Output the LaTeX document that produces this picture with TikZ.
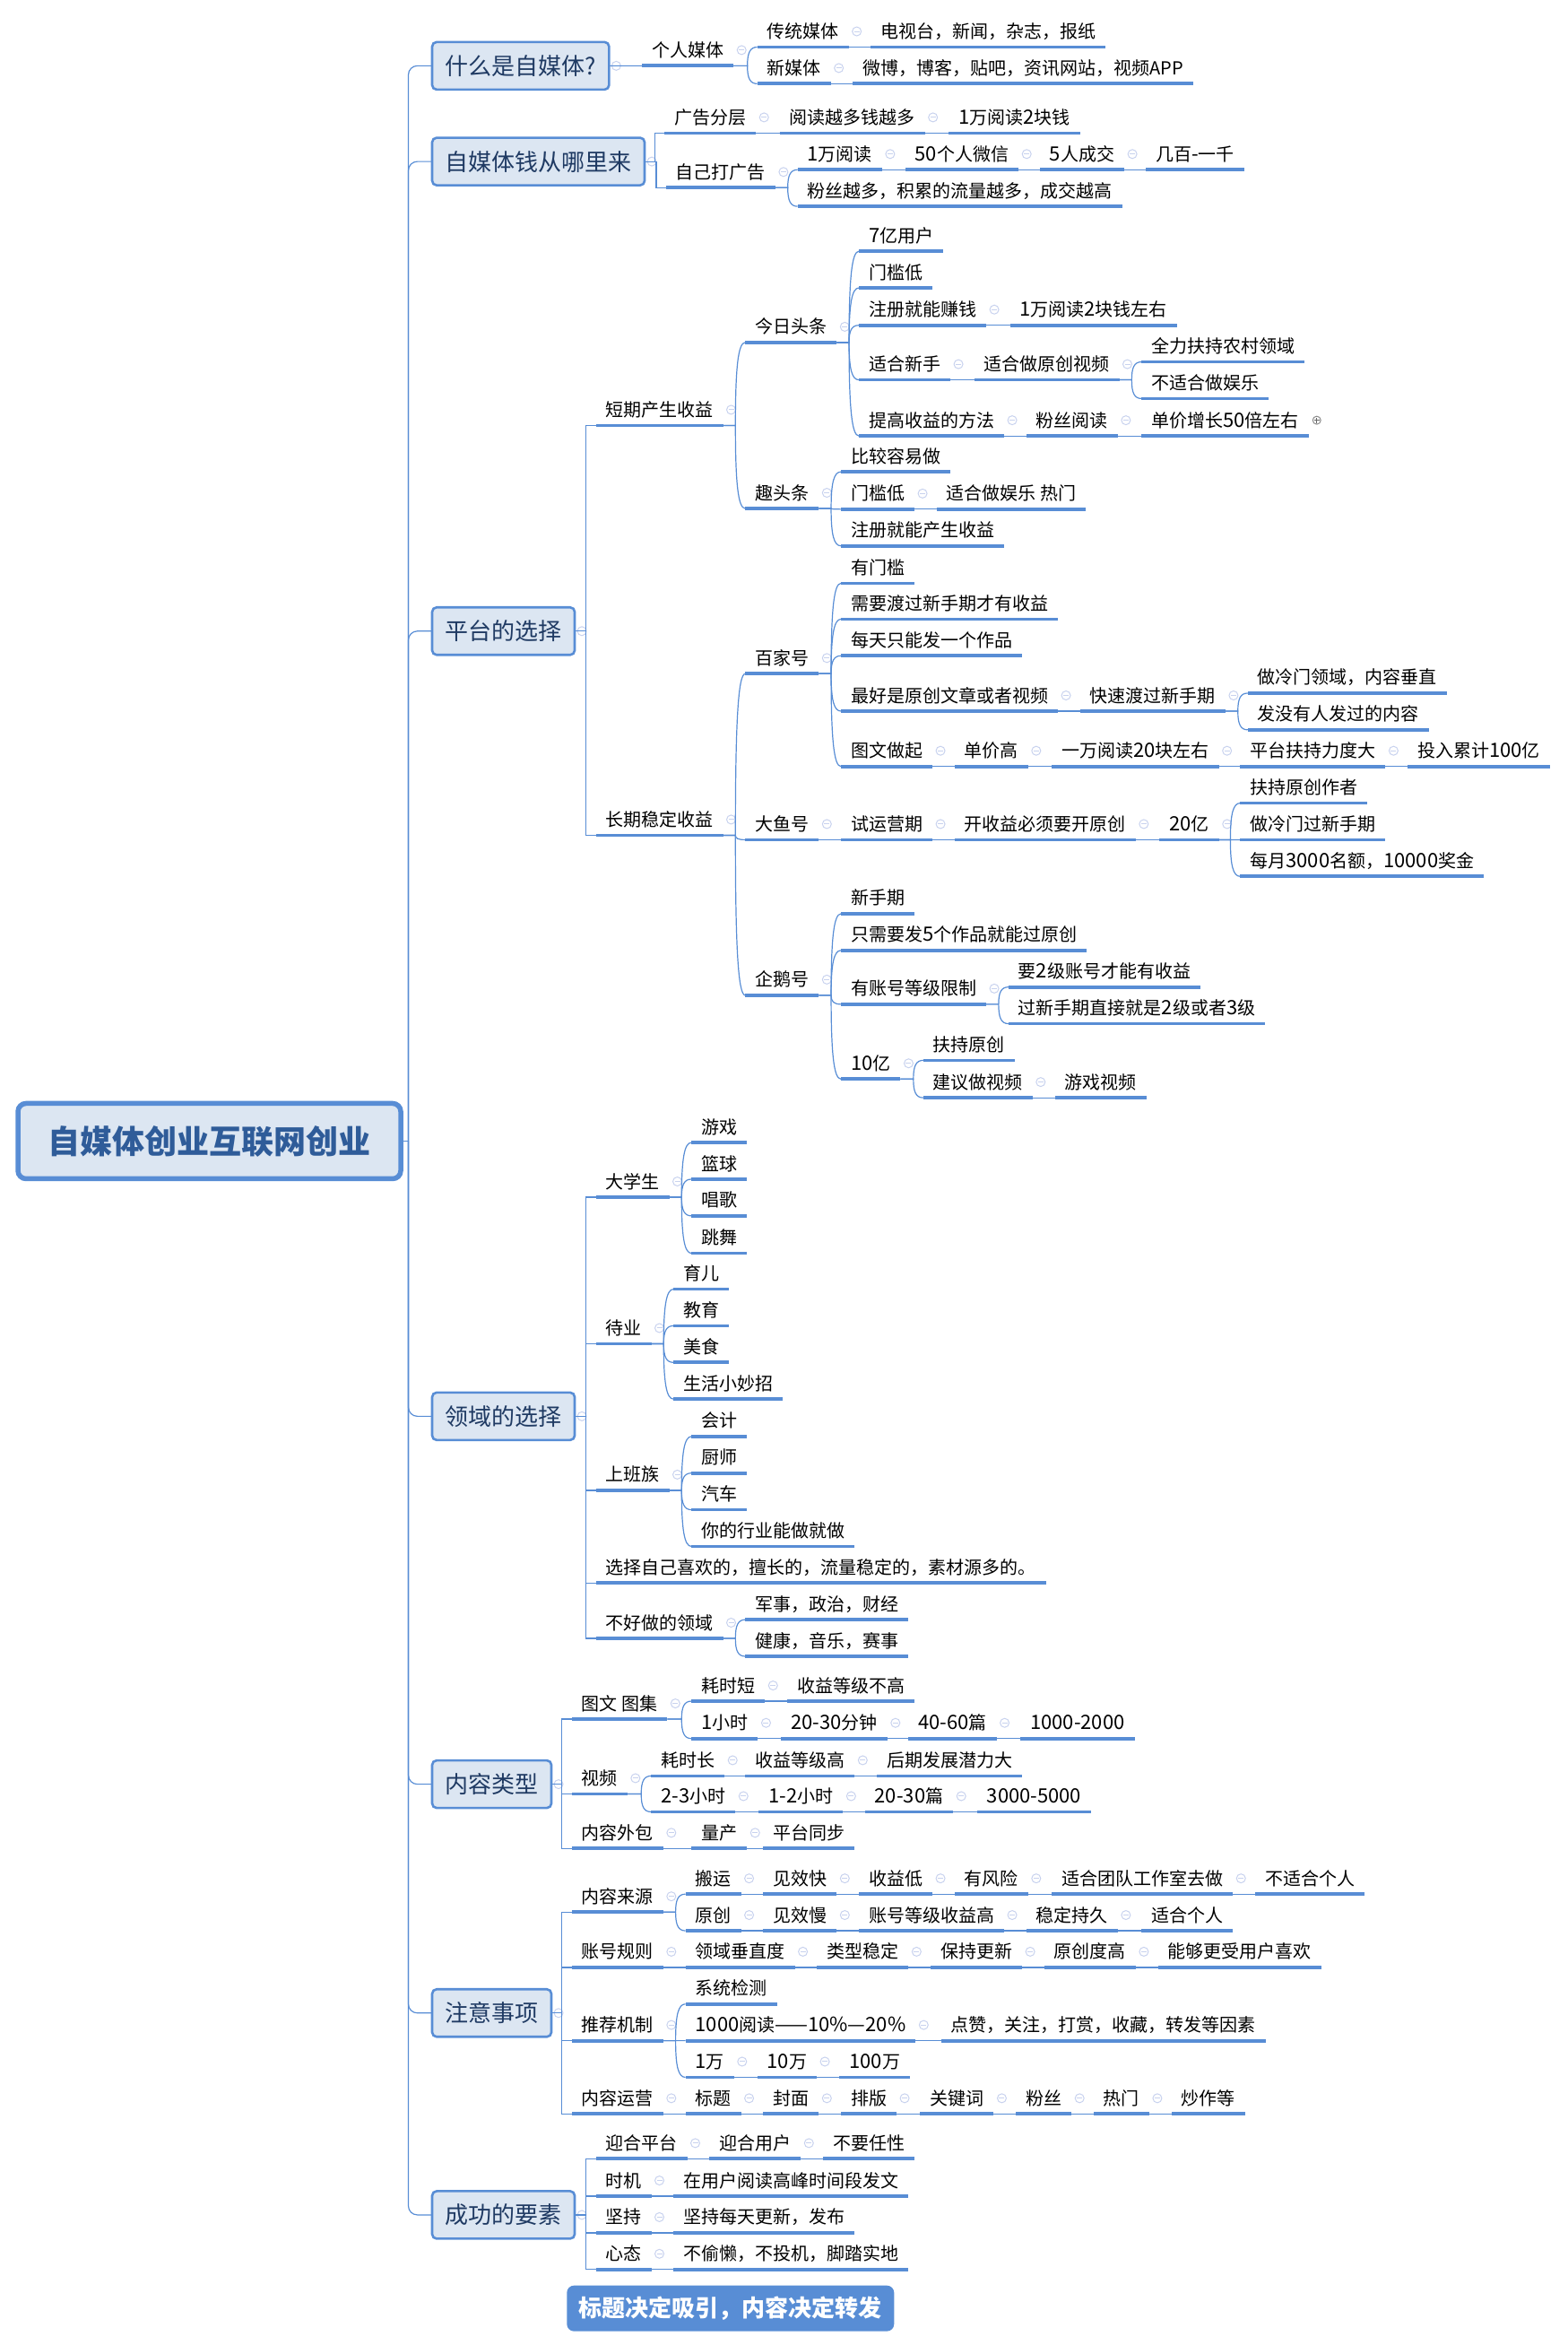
\documentclass[tikz,border=0pt]{standalone}
\usepackage{fontspec}
\setmainfont{Noto Sans CJK SC}
\newfontface\latf{Noto Sans CJK SC}[Scale=1.1]
\XeTeXinterchartokenstate=1
\newXeTeXintercharclass\latcl
\XeTeXcharclass`0=\latcl \XeTeXcharclass`1=\latcl \XeTeXcharclass`2=\latcl \XeTeXcharclass`3=\latcl \XeTeXcharclass`4=\latcl
\XeTeXcharclass`5=\latcl \XeTeXcharclass`6=\latcl \XeTeXcharclass`7=\latcl \XeTeXcharclass`8=\latcl \XeTeXcharclass`9=\latcl
\XeTeXcharclass`-=\latcl \XeTeXcharclass`\%=\latcl \XeTeXcharclass`—=\latcl
\XeTeXinterchartoks 0 \latcl={\begingroup\latf}
\XeTeXinterchartoks 4095 \latcl={\begingroup\latf}
\XeTeXinterchartoks \latcl 0={\endgroup}
\XeTeXinterchartoks \latcl 4095={\endgroup}
\usetikzlibrary{calc}
\definecolor{mblue}{HTML}{588DD5}
\definecolor{mfill}{HTML}{DCE6F2}
\definecolor{mtext}{HTML}{1F3A63}
\definecolor{mroot}{HTML}{2F5C99}
\definecolor{mmark}{HTML}{C8D2EE}
\tikzset{
 conn/.style={draw=mblue,line width=1.2pt},
 mkline/.style={draw=mmark,line width=1pt},
 leaf/.style={inner xsep=11pt,inner ysep=0pt,outer sep=0pt,minimum height=35pt,anchor=west,
   text height=17pt,text depth=2pt,font=\fontsize{20}{24}\selectfont,text=black,
   append after command={(\tikzlastnode.south west) edge[draw=mblue,line width=3.8pt] (\tikzlastnode.south east)}},
 topic/.style={draw=mblue,line width=2.6pt,fill=mfill,rounded corners=5pt,inner xsep=14.5pt,outer sep=0pt,
   minimum height=53pt,anchor=west,text height=20pt,text depth=0.2pt,font=\fontsize{26}{32}\selectfont,text=mtext},
 rootbox/.style={draw=mblue,line width=5.5pt,fill=mfill,rounded corners=9pt,minimum width=427pt,minimum height=84pt,
   font=\fontsize{36}{40}\selectfont\bfseries,text=mroot,outer sep=2.5pt},
 bannerbox/.style={fill=mblue,rounded corners=8pt,minimum width=365pt,minimum height=51pt,
   font=\fontsize{26}{30}\selectfont\bfseries,text=white,inner sep=0pt}
}
\newcommand\xM[2][9pt]{\begingroup\pgfmathsetlengthmacro\xa{#1}%
 \draw[mkline] ([xshift=\xa]#2.east) circle (5pt);
 \draw[mkline] ([xshift=\xa-3pt]#2.east) -- ([xshift=\xa+3pt]#2.east);\endgroup}
\newcommand\xP[2][9pt]{\begingroup\pgfmathsetlengthmacro\xa{#1}%
 \draw[draw=black!45,line width=1pt] ([xshift=\xa]#2.east) circle (4.5pt);
 \draw[draw=black!60,line width=1pt] ([xshift=\xa-3pt]#2.east) -- ([xshift=\xa+3pt]#2.east);
 \draw[draw=black!60,line width=1pt] ([xshift=\xa,yshift=-3pt]#2.east) -- ([xshift=\xa,yshift=3pt]#2.east);\endgroup}
% a row of linked leaves: base name, y, list of x/text
\newcommand\xch[3]{\foreach \xx/\tt [count=\i] in {#3}{%
 \node[leaf] (#1\i) at (\xx-6.6,#2) {\tt};
 \ifnum\i>1 \pgfmathtruncatemacro\j{\i-1}%
  \draw[conn] (#1\j.south east) -- (#1\i.south west);
  \xM{#1\j}\fi}}
% curved fan
\newcommand\xC[2]{\xM{#1}\foreach \xc in {#2}{%
 \draw[conn] let \p1=(#1.south east),\p2=(\xc.south west) in
  (\p1) -- (\x2-11pt,\y1) .. controls (\x2-11pt,{\y1*0.3+\y2*0.7}) and (\x2-8pt,\y2) .. (\p2);}}
% square fan from a box
\newcommand\xE[2]{\xM[8pt]{#1}\foreach \xc in {#2}{%
 \draw[conn] let \p1=(#1.east),\p2=(\xc.south west) in
  (\p1) -- (\x2-11pt,\y1) -- (\x2-11pt,\y2) -- (\p2);}}
\begin{document}
\begin{tikzpicture}[x=1.66794pt,y=-1.66773pt]
\useasboundingbox (0,0) rectangle (1048,1568);
\node[rootbox] (root) at (140,763) {自媒体创业互联网创业};
\coordinate (trunk) at ([xshift=6pt]root.east);
\draw[conn] (root.east) -- (trunk);
% topics
\node[topic] (ta) at (289,44) {什么是自媒体?};
\node[topic] (tb) at (289,108) {自媒体钱从哪里来};
\node[topic] (tc) at (289,422) {平台的选择};
\node[topic] (td) at (289,947) {领域的选择};
\node[topic] (te) at (289,1193) {内容类型};
\node[topic] (tf) at (289,1346) {注意事项};
\node[topic] (tg) at (289,1481) {成功的要素};
\foreach \tp in {ta,tb,tc,td,te,tf,tg}{\draw[conn,rounded corners=10pt] (trunk) |- (\tp.west);}
% 1
\xch{aa}{33.5}{436/个人媒体}
\xch{ab}{21}{513/传统媒体,589/电视台，新闻，杂志，报纸}
\xch{ac}{45.5}{513/新媒体,577/微博，博客，贴吧，资讯网站，视频APP}
\xM[8pt]{ta}\draw[conn] (ta.east) -- (aa1.south west);
\xC{aa1}{ab1,ac1}
% 2
\xch{ba}{78.5}{451/广告分层,528/阅读越多钱越多,641/1万阅读2块钱}
\xch{bb}{115}{452/自己打广告}
\xch{bc}{103}{540/1万阅读,612/50个人微信,702/5人成交,773/几百-一千}
\xch{bd}{127.5}{540/粉丝越多，积累的流量越多，成交越高}
\xE{tb}{ba1,bb1}
\xC{bb1}{bc1,bd1}
% 3
\xch{ca}{274}{405/短期产生收益}
\xch{cb}{548}{405/长期稳定收益}
\xE{tc}{ca1,cb1}
\xch{da}{218.5}{505/今日头条}
\xch{db}{329.5}{505/趣头条}
\xC{ca1}{da1,db1}
\xch{ea}{157.5}{581/7亿用户}
\xch{eb}{182}{581/门槛低}
\xch{ec}{207}{581/注册就能赚钱,682/1万阅读2块钱左右}
\xch{ed}{243.5}{581/适合新手,658/适合做原创视频}
\xch{ee}{231.5}{770/全力扶持农村领域}
\xch{ef}{256}{770/不适合做娱乐}
\xch{eg}{281}{581/提高收益的方法,693/粉丝阅读,770/单价增长50倍左右}
\xP{eg3}
\xC{da1}{ea1,eb1,ec1,ed1,eg1}
\xC{ed2}{ee1,ef1}
\xch{fa}{305}{569/比较容易做}
\xch{fb}{330}{569/门槛低,633/适合做娱乐 热门}
\xch{fc}{354.5}{569/注册就能产生收益}
\xC{db1}{fa1,fb1,fc1}
\xch{ga}{440}{505/百家号}
\xch{gb}{551}{505/大鱼号,569/试运营期,645/开收益必须要开原创,782/20亿}
\xch{gc}{655}{505/企鹅号}
\xC{cb1}{ga1,gb1,gc1}
\xch{ha}{379.5}{569/有门槛}
\xch{hb}{403.5}{569/需要渡过新手期才有收益}
\xch{hc}{428}{569/每天只能发一个作品}
\xch{hd}{465}{569/最好是原创文章或者视频,729/快速渡过新手期}
\xch{he}{453}{841/做冷门领域，内容垂直}
\xch{hf}{477.5}{841/发没有人发过的内容}
\xch{hg}{502}{569/图文做起,645/单价高,710/一万阅读20块左右,836/平台扶持力度大,948/投入累计100亿}
\xC{ga1}{ha1,hb1,hc1,hd1,hg1}
\xC{hd2}{he1,hf1}
\xch{ia}{526.5}{836/扶持原创作者}
\xch{ib}{551}{836/做冷门过新手期}
\xch{ic}{575.5}{836/每月3000名额，10000奖金}
\xC{gb4}{ia1,ib1,ic1}
\xch{ja}{600.5}{569/新手期}
\xch{jb}{625}{569/只需要发5个作品就能过原创}
\xch{jc}{661}{569/有账号等级限制}
\xch{jd}{711}{569/10亿}
\xch{je}{649.5}{681/要2级账号才能有收益}
\xch{jf}{674}{681/过新手期直接就是2级或者3级}
\xch{jg}{698.5}{624/扶持原创}
\xch{jh}{723.5}{624/建议做视频,712/游戏视频}
\xC{gc1}{ja1,jb1,jc1,jd1}
\xC{jc1}{je1,jf1}
\xC{jd1}{jg1,jh1}
% 4
\xch{ka}{790}{405/大学生}
\xch{kb}{888}{405/待业}
\xch{kc}{986}{405/上班族}
\xch{kd}{1048}{405/选择自己喜欢的，擅长的，流量稳定的，素材源多的。}
\xch{ke}{1085}{405/不好做的领域}
\xE{td}{ka1,kb1,kc1,kd1,ke1}
\xch{la}{753.5}{469/游戏}
\xch{lb}{778}{469/篮球}
\xch{lc}{802.5}{469/唱歌}
\xch{ld}{827.5}{469/跳舞}
\xC{ka1}{la1,lb1,lc1,ld1}
\xch{ma}{851.5}{457/育儿}
\xch{mb}{876}{457/教育}
\xch{mc}{900.5}{457/美食}
\xch{md}{925}{457/生活小妙招}
\xC{kb1}{ma1,mb1,mc1,md1}
\xch{na}{950}{469/会计}
\xch{nb}{974.5}{469/厨师}
\xch{nc}{999}{469/汽车}
\xch{nd}{1023.5}{469/你的行业能做就做}
\xC{kc1}{na1,nb1,nc1,nd1}
\xch{oa}{1072.5}{505/军事，政治，财经}
\xch{ob}{1097}{505/健康，音乐，赛事}
\xC{ke1}{oa1,ob1}
% 5
\xch{pa}{1139}{389/图文 图集}
\xch{pb}{1189}{389/视频}
\xch{pc}{1225.5}{389/内容外包,469/量产,517/平台同步}
\xE{te}{pa1,pb1,pc1}
\xch{qa}{1127}{469/耗时短,533/收益等级不高}
\xch{qb}{1152}{469/1小时,529/20-30分钟,614/40-60篇,689/1000-2000}
\xC{pa1}{qa1,qb1}
\xch{ra}{1177}{442/耗时长,505/收益等级高,593/后期发展潜力大}
\xch{rb}{1201}{442/2-3小时,514/1-2小时,585/20-30篇,660/3000-5000}
\xC{pb1}{ra1,rb1}
% 6
\xch{sa}{1268}{389/内容来源}
\xch{sb}{1305}{389/账号规则,465/领域垂直度,553/类型稳定,629/保持更新,705/原创度高,781/能够更受用户喜欢}
\xch{sc}{1354}{389/推荐机制}
\xch{sd}{1403}{389/内容运营,465/标题,517/封面,569/排版,622/关键词,686/粉丝,738/热门,790/炒作等}
\xE{tf}{sa1,sb1,sc1,sd1}
\xch{ua}{1256}{465/搬运,517/见效快,581/收益低,645/有风险,710/适合团队工作室去做,846/不适合个人}
\xch{ub}{1280.5}{465/原创,517/见效慢,581/账号等级收益高,693/稳定持久,770/适合个人}
\xC{sa1}{ua1,ub1}
\xch{va}{1329.5}{465/系统检测}
\xch{vb}{1354}{465/1000阅读——10\%—20\%,636/点赞，关注，打赏，收藏，转发等因素}
\xch{vc}{1378.5}{465/1万,513/10万,568/100万}
\xC{sc1}{va1,vb1,vc1}
% 7
\xch{wa}{1433}{405/迎合平台,481/迎合用户,557/不要任性}
\xch{wb}{1458}{405/时机,457/在用户阅读高峰时间段发文}
\xch{wc}{1482.5}{405/坚持,457/坚持每天更新，发布}
\xch{wd}{1507}{405/心态,457/不偷懒，不投机，脚踏实地}
\xE{tg}{wa1,wb1,wc1,wd1}
\node[bannerbox] (banner) at (488.5,1543.5) {标题决定吸引，内容决定转发};
\end{tikzpicture}
\end{document}
